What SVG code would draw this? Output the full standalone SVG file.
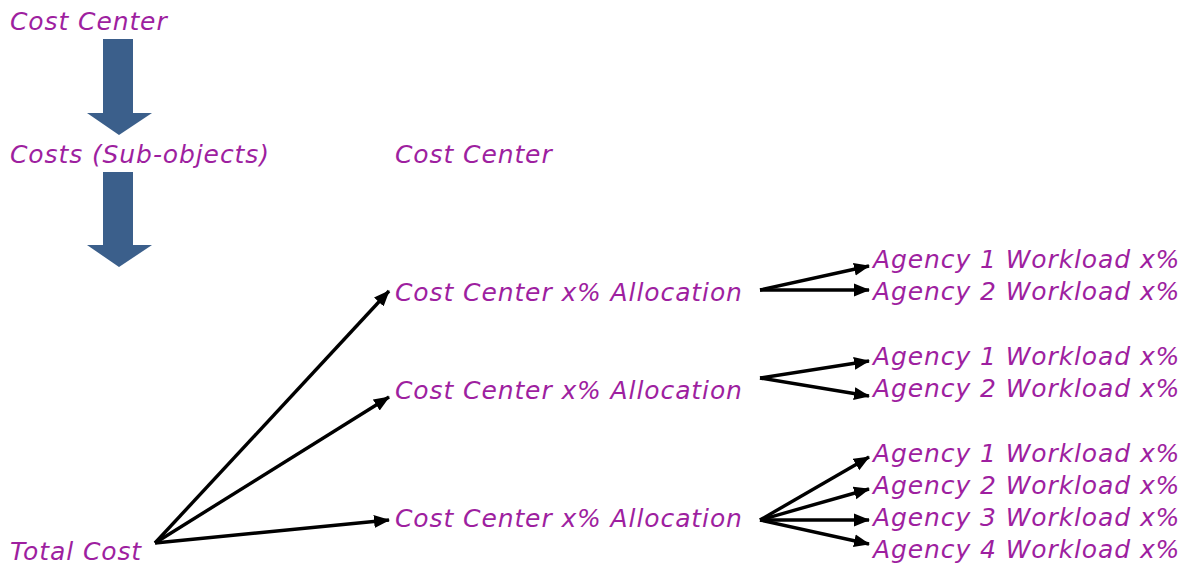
<svg xmlns="http://www.w3.org/2000/svg" width="1194" height="568" viewBox="0 0 1194 568">
<style>
text{font-family:"DejaVu Sans","Liberation Sans",sans-serif;font-style:italic;font-size:25px;fill:#9e1fa0;letter-spacing:0.9px}
.c{stroke:#000;stroke-width:3.4;fill:none;marker-end:url(#ah)}
.big{fill:#3b5f8b}
</style>
<defs>
<marker id="ah" markerUnits="userSpaceOnUse" markerWidth="16" markerHeight="14" refX="15" refY="7" orient="auto">
<path d="M0,0.5 L16,7 L0,13.5 Z" fill="#000"/>
</marker>
</defs>
<rect width="1194" height="568" fill="#fff"/>
<g id="n-cc-top"><text x="10" y="30">Cost Center</text></g>
<g id="arrow-big-1"><path class="big" d="M103,39 H133 V113 H152 L119,135 L87,113 H103 Z"/></g>
<g id="n-costs"><text x="10" y="163">Costs (Sub-objects)</text></g>
<g id="arrow-big-2"><path class="big" d="M103,172 H133 V245 H152 L119,267 L87,245 H103 Z"/></g>
<g id="n-cc-mid"><text x="395" y="163">Cost Center</text></g>
<g id="n-total"><text x="10" y="560">Total Cost</text></g>
<g id="n-alloc1"><text x="395" y="301">Cost Center x% Allocation</text></g>
<g id="n-alloc2"><text x="395" y="399">Cost Center x% Allocation</text></g>
<g id="n-alloc3"><text x="395" y="527">Cost Center x% Allocation</text></g>
<g id="n-a1-1"><text x="873" y="268">Agency 1 Workload x%</text></g>
<g id="n-a1-2"><text x="873" y="300">Agency 2 Workload x%</text></g>
<g id="n-a2-1"><text x="873" y="365">Agency 1 Workload x%</text></g>
<g id="n-a2-2"><text x="873" y="397">Agency 2 Workload x%</text></g>
<g id="n-a3-1"><text x="873" y="462">Agency 1 Workload x%</text></g>
<g id="n-a3-2"><text x="873" y="494">Agency 2 Workload x%</text></g>
<g id="n-a3-3"><text x="873" y="526">Agency 3 Workload x%</text></g>
<g id="n-a3-4"><text x="873" y="558">Agency 4 Workload x%</text></g>
<g id="connectors">
<path class="c" d="M155,543 L389,291"/>
<path class="c" d="M155,543 L389,397"/>
<path class="c" d="M155,543 L389,520"/>
<path class="c" d="M760,290 L869,266"/>
<path class="c" d="M760,290 L869,290"/>
<path class="c" d="M760,378 L869,361"/>
<path class="c" d="M760,378 L869,396"/>
<path class="c" d="M760,520 L869,457"/>
<path class="c" d="M760,520 L869,489"/>
<path class="c" d="M760,520 L869,520"/>
<path class="c" d="M760,520 L869,544"/>
</g>
</svg>
